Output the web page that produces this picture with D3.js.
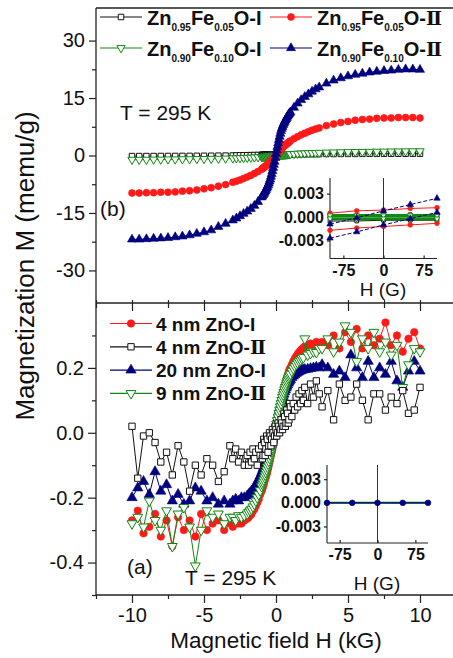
<!DOCTYPE html>
<html>
<head>
<meta charset="utf-8">
<script src="https://cdn.jsdelivr.net/npm/d3@7"></script>
<style>
  html, body { margin: 0; padding: 0; background: #fff; }
  svg { display: block; }
</style>
</head>
<body>
<svg id="chart" width="453" height="658"></svg>
<script>
// ---------- Panel (b): Fe-doped ZnO, field sweep in kG ----------
const hTop = [-10,-9.5,-9,-8.5,-8,-7.5,-7,-6.5,-6,-5.5,-5,-4.5,-4,-3.5,-3,
  -2.75,-2.5,-2.25,-2,-1.75,-1.5,-1.25,-1,
  -0.95,-0.9,-0.85,-0.8,-0.75,-0.7,-0.65,-0.6,-0.55,-0.5,-0.45,-0.4,-0.35,-0.3,-0.25,-0.2,-0.15,-0.1,-0.05,
  0,0.05,0.1,0.15,0.2,0.25,0.3,0.35,0.4,0.45,0.5,0.55,0.6,0.65,0.7,0.75,0.8,0.85,0.9,0.95,
  1,1.25,1.5,1.75,2,2.25,2.5,2.75,
  3,3.5,4,4.5,5,5.5,6,6.5,7,7.5,8,8.5,9,9.5,10];

const mZn95I = [-0.15,-0.15,-0.14,-0.14,-0.13,-0.12,-0.12,-0.11,-0.1,-0.09,-0.08,-0.07,-0.05,-0.03,0.0,
  0.02,0.04,0.06,0.08,0.1,0.12,0.14,0.16,
  0.165,0.17,0.175,0.18,0.185,0.19,0.195,0.2,0.205,0.21,0.215,0.22,0.225,0.23,0.235,0.24,0.245,0.25,0.255,
  0.26,0.265,0.27,0.275,0.28,0.285,0.29,0.29,0.29,0.295,0.3,0.3,0.3,0.305,0.31,0.31,0.31,0.315,0.32,0.32,
  0.32,0.33,0.34,0.35,0.36,0.37,0.37,0.38,
  0.38,0.39,0.4,0.41,0.42,0.42,0.43,0.44,0.44,0.45,0.45,0.46,0.46,0.47,0.47];

const mZn95II = [-9.8,-9.8,-9.7,-9.7,-9.6,-9.6,-9.5,-9.3,-9.2,-9.0,-8.7,-8.4,-8.0,-7.6,-7.0,
  -6.7,-6.4,-6.0,-5.6,-5.2,-4.7,-4.2,-3.6,
  -3.45,-3.3,-3.15,-3.0,-2.85,-2.7,-2.55,-2.4,-2.2,-2.0,-1.8,-1.6,-1.4,-1.2,-1.0,-0.8,-0.6,-0.4,-0.15,
  0.1,0.35,0.6,0.8,1.0,1.2,1.4,1.6,1.8,2.0,2.2,2.4,2.6,2.75,2.9,3.05,3.2,3.35,3.5,3.65,
  3.8,4.4,4.9,5.4,5.8,6.2,6.6,6.9,
  7.2,7.8,8.2,8.6,8.9,9.2,9.4,9.5,9.7,9.8,9.8,9.9,9.9,9.9,9.8];

const mZn90I = [-1.1,-1.1,-1.1,-1.05,-1.05,-1.0,-1.0,-0.95,-0.95,-0.9,-0.88,-0.85,-0.82,-0.78,-0.72,
  -0.69,-0.66,-0.62,-0.58,-0.54,-0.49,-0.43,-0.37,
  -0.355,-0.34,-0.325,-0.31,-0.295,-0.28,-0.26,-0.24,-0.22,-0.2,-0.18,-0.16,-0.14,-0.12,-0.1,-0.08,-0.06,-0.04,-0.02,
  0.0,0.02,0.04,0.06,0.08,0.1,0.12,0.14,0.16,0.18,0.2,0.22,0.24,0.26,0.28,0.295,0.31,0.325,0.34,0.355,
  0.37,0.43,0.49,0.54,0.58,0.62,0.66,0.69,
  0.72,0.78,0.82,0.86,0.9,0.93,0.96,0.99,1.02,1.04,1.06,1.08,1.1,1.12,1.13];

const mZn90II = [-21.9,-21.9,-21.8,-21.7,-21.6,-21.5,-21.3,-21.1,-20.8,-20.4,-20.0,-19.5,-18.6,-17.8,-16.9,
  -16.4,-15.8,-15.2,-14.6,-13.9,-13.1,-12.1,-10.9,
  -10.6,-10.3,-10.0,-9.7,-9.35,-9.0,-8.6,-8.2,-7.75,-7.3,-6.75,-6.2,-5.5,-4.8,-4.0,-3.2,-2.4,-1.6,-0.6,
  0.4,1.4,2.3,3.2,4.1,4.9,5.7,6.4,7.0,7.5,8.0,8.4,8.8,9.15,9.5,9.85,10.2,10.5,10.8,11.05,
  11.3,12.5,13.6,14.5,15.3,16.0,16.7,17.3,
  17.8,18.8,19.6,20.2,20.7,21.1,21.4,21.7,21.9,22.1,22.2,22.4,22.5,22.5,22.4];

// legend names, split into [main, subscript, main, subscript, main]
const topNames = [
  ["Zn","0.95","Fe","0.05","O-I"],
  ["Zn","0.95","Fe","0.05","O-Ⅱ"],
  ["Zn","0.90","Fe","0.10","O-I"],
  ["Zn","0.90","Fe","0.10","O-Ⅱ"]
];

// ---------- Panel (a): ZnO nanoparticles ----------
const hBottom = [-10,-9.6,-9.2,-8.8,-8.4,-8,-7.6,-7.2,-6.8,-6.4,-6,-5.6,-5.2,-4.8,-4.4,-4,-3.6,-3.2,
  -3,-2.8,-2.6,-2.4,-2.2,
  -2,-1.9,-1.8,-1.7,-1.6,-1.5,-1.4,-1.3,-1.2,-1.1,
  -1,-0.95,-0.9,-0.85,-0.8,-0.75,-0.7,-0.65,-0.6,-0.55,-0.5,-0.45,-0.4,-0.35,-0.3,-0.25,-0.2,-0.15,-0.1,-0.05,
  0,0.05,0.1,0.15,0.2,0.25,0.3,0.35,0.4,0.45,0.5,0.55,0.6,0.65,0.7,0.75,0.8,0.85,0.9,0.95,1,
  1.1,1.2,1.3,1.4,1.5,1.6,1.7,1.8,1.9,2,
  2.2,2.4,2.6,2.8,3,
  3.2,3.6,4,4.4,4.8,5.2,5.6,6,6.4,6.8,7.2,7.6,8,8.4,8.8,9.2,9.6,10];

const m4nmI = [-0.27,-0.24,-0.31,-0.29,-0.25,-0.32,-0.27,-0.35,-0.26,-0.30,-0.27,-0.32,-0.25,-0.30,-0.28,-0.27,-0.30,-0.28,
  -0.29,-0.27,-0.28,-0.28,-0.27,
  -0.265,-0.26,-0.255,-0.25,-0.24,-0.235,-0.225,-0.215,-0.205,-0.19,
  -0.18,-0.172,-0.165,-0.158,-0.15,-0.142,-0.135,-0.128,-0.12,-0.11,-0.10,-0.09,-0.08,-0.07,-0.06,-0.05,-0.04,-0.028,-0.015,-0.002,
  0.01,0.022,0.035,0.048,0.06,0.072,0.085,0.095,0.105,0.115,0.125,0.135,0.145,0.152,0.16,0.168,0.175,0.182,0.19,0.195,0.20,
  0.21,0.22,0.228,0.235,0.242,0.248,0.253,0.258,0.262,0.266,
  0.27,0.275,0.27,0.28,0.275,
  0.28,0.27,0.30,0.26,0.31,0.28,0.32,0.26,0.30,0.27,0.29,0.34,0.27,0.30,0.25,0.29,0.31,0.26];

const m4nmII = [0.02,-0.14,-0.01,0.00,-0.03,-0.09,-0.06,-0.13,-0.04,-0.09,-0.18,-0.10,-0.13,-0.08,-0.10,-0.15,-0.12,-0.04,
  -0.08,-0.05,-0.09,-0.06,-0.10,
  -0.07,-0.10,-0.06,-0.09,-0.05,-0.08,-0.06,-0.10,-0.05,-0.07,
  -0.04,-0.08,-0.07,-0.02,-0.03,-0.07,-0.05,-0.01,-0.02,-0.06,-0.04,0.00,-0.01,-0.04,-0.02,0.01,0.00,-0.03,-0.01,0.02,
  0.01,-0.01,0.00,0.03,0.02,0.00,0.01,0.04,0.03,0.01,0.02,0.06,0.05,0.02,0.03,0.07,0.06,0.03,0.04,0.09,0.08,
  0.05,0.09,0.07,0.11,0.08,0.12,0.09,0.13,0.10,0.14,
  0.09,0.15,0.11,0.16,0.12,
  0.08,0.13,0.04,0.15,0.10,0.11,0.15,0.10,0.04,0.12,0.12,0.07,0.11,0.09,0.13,0.06,0.07,0.14];

const m20nmI = [-0.20,-0.17,-0.15,-0.19,-0.12,-0.18,-0.16,-0.21,-0.19,-0.22,-0.21,-0.17,-0.18,-0.21,-0.20,-0.22,-0.21,-0.22,
  -0.21,-0.205,-0.21,-0.20,-0.20,
  -0.195,-0.19,-0.186,-0.18,-0.175,-0.168,-0.16,-0.152,-0.143,-0.133,
  -0.123,-0.118,-0.112,-0.106,-0.10,-0.094,-0.088,-0.082,-0.075,-0.068,-0.061,-0.054,-0.046,-0.038,-0.03,-0.022,-0.013,-0.004,0.005,0.015,
  0.024,0.034,0.043,0.053,0.062,0.071,0.08,0.089,0.097,0.105,0.112,0.119,0.126,0.132,0.138,0.143,0.148,0.153,0.157,0.161,0.164,
  0.17,0.175,0.179,0.183,0.186,0.189,0.191,0.193,0.194,0.195,
  0.196,0.198,0.2,0.202,0.2,
  0.21,0.20,0.18,0.19,0.17,0.24,0.20,0.17,0.22,0.17,0.20,0.18,0.22,0.16,0.14,0.19,0.22,0.19];

const m9nmII = [-0.28,-0.26,-0.29,-0.21,-0.27,-0.30,-0.24,-0.35,-0.25,-0.23,-0.29,-0.41,-0.30,-0.24,-0.26,-0.25,-0.28,-0.26,
  -0.26,-0.27,-0.255,-0.26,-0.255,
  -0.25,-0.245,-0.24,-0.235,-0.228,-0.22,-0.21,-0.2,-0.19,-0.178,
  -0.165,-0.158,-0.152,-0.145,-0.137,-0.13,-0.122,-0.114,-0.105,-0.096,-0.087,-0.078,-0.068,-0.058,-0.048,-0.038,-0.028,-0.017,-0.006,0.005,
  0.016,0.027,0.038,0.049,0.06,0.07,0.08,0.09,0.1,0.109,0.117,0.125,0.133,0.14,0.147,0.154,0.16,0.166,0.171,0.176,0.181,
  0.19,0.198,0.205,0.211,0.216,0.221,0.225,0.229,0.232,0.29,
  0.24,0.245,0.25,0.248,0.26,
  0.26,0.29,0.25,0.28,0.33,0.31,0.22,0.29,0.26,0.31,0.25,0.28,0.24,0.27,0.14,0.21,0.26,0.25];

const bottomNames = ["4 nm ZnO-I", "4 nm ZnO-Ⅱ", "20 nm ZnO-I", "9 nm ZnO-Ⅱ"];

// ---------- Low-field insets, H in G ----------
const hInset = [-100,-50,0,50,100];
const insetZn90IIa = [-0.0009,-0.0001,0.0008,0.0016,0.0024];
const insetZn90IIb = [-0.0027,-0.0019,-0.0010,-0.0002,0.0006];
const insetZn95IIa = [0.0005,0.0008,0.0009,0.0011,0.0012];
const insetZn95IIb = [-0.0017,-0.0014,-0.0012,-0.0010,-0.0008];
const insetZn95Ia = [0.0002,0.0002,0.0003,0.0003,0.0003];
const insetZn95Ib = [-0.0005,-0.0005,-0.0004,-0.0004,-0.0004];
const insetZn90Ia = [0.0002,0.0002,0.0002,0.0002,0.0002];
const insetZn90Ib = [-0.0002,-0.0002,-0.0002,-0.0002,-0.0002];
const insetZnOa = [0,0,0,0,0];
const insetZnOb = [0,0,0,0,0];

// ---------- Tick values ----------
const xMajor = [-10,-5,0,5,10];
const xMinor = [-12.5,-7.5,-2.5,2.5,7.5,12.5];
const yTopMajor = [-30,-15,0,15,30];
const yTopMinor = [-22.5,-7.5,7.5,22.5];
const yBotMajor = [-0.4,-0.2,0.0,0.2];
const yBotMinor = [-0.5,-0.3,-0.1,0.1,0.3];
const insetXTicks = [-75,0,75];
const insetYTicks = [-0.003,0,0.003];

// ---------- Styles ----------
const FONT = "Arial, 'Liberation Sans', Helvetica, sans-serif";
const SERIF = "'Liberation Serif','DejaVu Serif','Times New Roman',serif";
const RED = "#ff1a1a", NAVY = "#00007f", GREEN = "#118811", BLACK = "#111";

const svg = d3.select("#chart");

const x = d3.scaleLinear().domain([-12.5, 12.5]).range([96, 456]);
const yTop = d3.scaleLinear().domain([-38.5, 38.5]).range([303, 8]);
const yBot = d3.scaleLinear().domain([-0.5, 0.4]).range([595, 303]);

const shapes = {
  circle: d3.symbolCircle, square: d3.symbolSquare,
  triangle: d3.symbolTriangle, triangleDown: d3.symbolTriangle
};

function symbolPath(shape, size) {
  return d3.symbol().type(shapes[shape]).size(size)();
}

function drawMarkers(g, pts, sx, sy, s) {
  g.selectAll(null).data(pts).enter().append("path")
    .attr("d", symbolPath(s.shape, s.size))
    .attr("transform", d => `translate(${sx(d[0])},${sy(d[1])})` + (s.shape === "triangleDown" ? " rotate(180)" : ""))
    .attr("fill", s.open ? "#fff" : s.color)
    .attr("stroke", s.color)
    .attr("stroke-width", s.open ? 1 : 0.6);
}

function drawSeries(g, hs, vals, sx, sy, s) {
  const pts = hs.map((h, i) => [h, vals[i]]);
  g.append("path").datum(pts)
    .attr("d", d3.line().x(d => sx(d[0])).y(d => sy(d[1])))
    .attr("fill", "none").attr("stroke", s.color)
    .attr("stroke-width", s.lineWidth || 1)
    .attr("stroke-dasharray", s.dash || null);
  if (s.size) drawMarkers(g, pts, sx, sy, s);
}

// ---------- Frame ----------
const frame = svg.append("g").attr("stroke", "#222").attr("stroke-width", 1.3).attr("fill", "none");
frame.append("line").attr("x1", x(-12.5)).attr("x2", x(12.5)).attr("y1", yTop(38.5)).attr("y2", yTop(38.5));
frame.append("line").attr("x1", x(-12.5)).attr("x2", x(12.5)).attr("y1", yBot(0.4)).attr("y2", yBot(0.4));
frame.append("line").attr("x1", x(-12.5)).attr("x2", x(12.5)).attr("y1", yBot(-0.5)).attr("y2", yBot(-0.5));
frame.append("line").attr("x1", x(-12.5)).attr("x2", x(-12.5)).attr("y1", yTop(38.5)).attr("y2", yBot(-0.5));

function styleAxis(g, size) {
  g.select(".domain").remove();
  g.selectAll(".tick line").attr("stroke", "#222").attr("stroke-width", 1.2);
  g.selectAll(".tick text").attr("font-family", FONT).attr("font-size", size || 20).attr("fill", "#111");
}

// x axis at the bottom
svg.append("g").attr("transform", `translate(0,${yBot(-0.5)})`)
  .call(d3.axisBottom(x).tickValues(xMajor).tickSize(8).tickPadding(5).tickFormat(d => String(d)))
  .call(g => styleAxis(g, 20));
svg.append("g").attr("transform", `translate(0,${yBot(-0.5)})`)
  .call(d3.axisBottom(x).tickValues(xMinor).tickSize(4).tickFormat(""))
  .call(g => styleAxis(g));
// ticks on the divider between panels
svg.append("g").attr("transform", `translate(0,${yBot(0.4)})`)
  .call(d3.axisBottom(x).tickValues(xMajor).tickSize(8).tickFormat(""))
  .call(g => styleAxis(g));
svg.append("g").attr("transform", `translate(0,${yBot(0.4)})`)
  .call(d3.axisBottom(x).tickValues(xMinor).tickSize(5).tickFormat(""))
  .call(g => styleAxis(g));
svg.append("g").attr("transform", `translate(0,${yBot(0.4)})`)
  .call(d3.axisTop(x).tickValues(xMajor.concat(xMinor)).tickSize(3).tickFormat(""))
  .call(g => styleAxis(g));

// y axes
svg.append("g").attr("transform", `translate(${x(-12.5)},0)`)
  .call(d3.axisLeft(yTop).tickValues(yTopMajor).tickSize(7).tickPadding(4).tickFormat(d => String(d)))
  .call(g => styleAxis(g, 20));
svg.append("g").attr("transform", `translate(${x(-12.5)},0)`)
  .call(d3.axisLeft(yTop).tickValues(yTopMinor).tickSize(4).tickFormat(""))
  .call(g => styleAxis(g));
svg.append("g").attr("transform", `translate(${x(-12.5)},0)`)
  .call(d3.axisLeft(yBot).tickValues(yBotMajor).tickSize(8).tickPadding(4).tickFormat(d => d.toFixed(1)))
  .call(g => styleAxis(g, 20));
svg.append("g").attr("transform", `translate(${x(-12.5)},0)`)
  .call(d3.axisLeft(yBot).tickValues(yBotMinor).tickSize(4).tickFormat(""))
  .call(g => styleAxis(g));

// axis titles
svg.append("text")
  .attr("transform", "translate(34,266) rotate(-90)")
  .attr("text-anchor", "middle").attr("font-family", FONT).attr("font-size", 26).attr("fill", "#111")
  .text("Magnetization M (memu/g)");
svg.append("text")
  .attr("x", 276).attr("y", 648)
  .attr("text-anchor", "middle").attr("font-family", FONT).attr("font-size", 22.5).attr("fill", "#111")
  .text("Magnetic field H (kG)");

// ---------- Panel (b) curves ----------
const topSeries = [
  { values: mZn95I, color: BLACK, shape: "square", open: true, size: 30 },
  { values: mZn95II, color: RED, shape: "circle", open: false, size: 38 },
  { values: mZn90I, color: GREEN, shape: "triangleDown", open: true, size: 30 },
  { values: mZn90II, color: NAVY, shape: "triangle", open: false, size: 36 }
];
const gTop = svg.append("g");
[0, 2, 1, 3].forEach(i => drawSeries(gTop, hTop, topSeries[i].values, x, yTop, topSeries[i]));

// ---------- Panel (a) curves ----------
const bottomSeries = [
  { values: m4nmI, color: RED, shape: "circle", open: false, size: 44 },
  { values: m4nmII, color: BLACK, shape: "square", open: true, size: 40 },
  { values: m20nmI, color: NAVY, shape: "triangle", open: false, size: 46 },
  { values: m9nmII, color: GREEN, shape: "triangleDown", open: true, size: 42 }
];
const gBot = svg.append("g");
[0, 2, 3, 1].forEach(i => drawSeries(gBot, hBottom, bottomSeries[i].values, x, yBot, bottomSeries[i]));

// ---------- Legends ----------
function legendSymbol(g, x1, x2, y, s) {
  g.append("line").attr("x1", x1).attr("x2", x2).attr("y1", y).attr("y2", y)
    .attr("stroke", s.color).attr("stroke-width", 1.2);
  drawMarkers(g, [[(x1 + x2) / 2, y]], d => d, d => d, s);
}

const legTop = svg.append("g");
const topLegendPos = [[100, 17], [270, 17], [100, 48], [270, 48]];
topNames.forEach((parts, i) => {
  const [lx, ly] = topLegendPos[i];
  legendSymbol(legTop, lx, lx + 42, ly, topSeries[i]);
  const t = legTop.append("text").attr("x", lx + 47).attr("y", ly + 8)
    .attr("font-family", FONT).attr("font-weight", "bold").attr("font-size", 20).attr("fill", "#111");
  parts.forEach((p, k) => {
    const sub = k % 2 === 1;
    if (sub) {
      t.append("tspan").attr("dy", 6).attr("font-size", 10).text(p);
    } else {
      const span = t.append("tspan").attr("dy", k === 0 ? 0 : -6);
      const roman = p.indexOf("Ⅱ");
      if (roman >= 0) {
        span.text(p.slice(0, roman));
        t.append("tspan").attr("font-family", SERIF).attr("font-size", 19).text("Ⅱ");
      } else {
        span.text(p);
      }
    }
  });
});

const legBot = svg.append("g");
bottomNames.forEach((name, i) => {
  const ly = 323.5 + i * 23.3;
  legendSymbol(legBot, 110, 152, ly, bottomSeries[i]);
  const t = legBot.append("text").attr("x", 156).attr("y", ly + 7)
    .attr("font-family", FONT).attr("font-weight", "bold").attr("font-size", 19).attr("fill", "#111");
  const roman = name.indexOf("Ⅱ");
  if (roman >= 0) {
    t.append("tspan").text(name.slice(0, roman));
    t.append("tspan").attr("font-family", SERIF).text("Ⅱ");
  } else {
    t.text(name);
  }
});

// ---------- Annotations ----------
function note(txt, tx, ty) {
  svg.append("text").attr("x", tx).attr("y", ty)
    .attr("font-family", FONT).attr("font-size", 21).attr("fill", "#111").text(txt);
}
note("T = 295 K", 120, 120);
note("(b)", 100, 216);
note("(a)", 127, 574);
note("T = 295 K", 185, 585);

// ---------- Insets ----------
function drawInset(cfg) {
  const sx = d3.scaleLinear().domain([-100, 100]).range([cfg.left, cfg.right]);
  const sy = d3.scaleLinear().domain(cfg.yDomain).range([cfg.bottom, cfg.top]);
  const g = svg.append("g");
  g.append("line").attr("x1", cfg.left).attr("x2", cfg.left).attr("y1", cfg.top).attr("y2", cfg.bottom)
    .attr("stroke", "#222").attr("stroke-width", 1.1);
  g.append("line").attr("x1", cfg.left).attr("x2", cfg.right).attr("y1", cfg.bottom).attr("y2", cfg.bottom)
    .attr("stroke", "#222").attr("stroke-width", 1.1);
  g.append("line").attr("x1", sx(0)).attr("x2", sx(0)).attr("y1", cfg.top).attr("y2", cfg.bottom)
    .attr("stroke", "#333").attr("stroke-width", 1);

  g.append("g").attr("transform", `translate(${cfg.left},0)`)
    .call(d3.axisLeft(sy).tickValues(insetYTicks).tickSize(3).tickPadding(3).tickFormat(d => d.toFixed(3)))
    .call(a => styleAxis(a, 16))
    .call(a => a.selectAll(".tick text").attr("font-weight", "bold"));
  g.append("g").attr("transform", `translate(0,${cfg.bottom})`)
    .call(d3.axisBottom(sx).tickValues(insetXTicks).tickSize(-3).tickPadding(6).tickFormat(d => String(d)))
    .call(a => styleAxis(a, 16))
    .call(a => a.selectAll(".tick text").attr("font-weight", "bold"));

  g.append("text").attr("x", cfg.titleX).attr("y", cfg.titleY).attr("text-anchor", "middle")
    .attr("font-family", FONT).attr("font-size", 19).attr("fill", "#111").text("H (G)");

  cfg.series.forEach(s => drawSeries(g, hInset, s.values, sx, sy, s));
}

drawInset({
  left: 330, right: 437, top: 178, bottom: 258.5, yDomain: [-0.0053, 0.005],
  titleX: 383, titleY: 296,
  series: [
    { values: insetZn95Ia, color: BLACK, shape: "square", open: true, size: 14 },
    { values: insetZn95Ib, color: BLACK, shape: "square", open: true, size: 14 },
    { values: insetZn95IIa, color: RED, shape: "circle", size: 18 },
    { values: insetZn95IIb, color: RED, shape: "circle", size: 18 },
    { values: insetZn90Ia, color: GREEN, shape: "triangleDown", open: true, size: 14, lineWidth: 3 },
    { values: insetZn90Ib, color: GREEN, shape: "triangleDown", open: true, size: 14, lineWidth: 3 },
    { values: insetZn90IIa, color: NAVY, shape: "triangle", size: 18, dash: "4,2" },
    { values: insetZn90IIb, color: NAVY, shape: "triangle", size: 18, dash: "4,2" }
  ]
});

drawInset({
  left: 327, right: 428, top: 465, bottom: 543, yDomain: [-0.0051, 0.0048],
  titleX: 377, titleY: 590,
  series: [
    { values: insetZnOa, color: GREEN, lineWidth: 2 },
    { values: insetZnOb, color: NAVY, shape: "circle", size: 26, lineWidth: 1.3 }
  ]
});
</script>
</body>
</html>
